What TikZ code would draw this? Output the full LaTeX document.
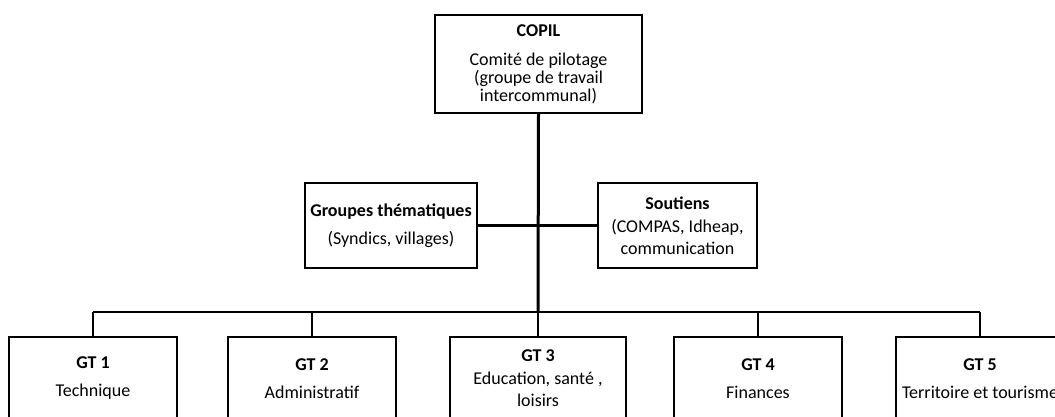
\documentclass[tikz,border=0pt]{standalone}
\usepackage{fontspec}
\setmainfont{Carlito}
\usepackage{tikz}
\usetikzlibrary{positioning}

\begin{document}
\begin{tikzpicture}[
  x=1pt, y=-1pt,
  every node/.style={font=\fontsize{18}{18}\selectfont},
  orgbox/.style={draw, line width=2pt, align=center, inner sep=0pt},
  gtbox/.style={orgbox, minimum width=168pt, minimum height=83pt},
  trunk/.style={line width=3pt},
  branch/.style={line width=2.5pt}
]
\clip (0,0) rectangle (1055,417);
\fill[white] (0,0) rectangle (1055,417);
\node[orgbox, minimum width=207pt, minimum height=98pt] (copil) at (538.5,64)
  {\textbf{COPIL}\\[11pt] Comité de pilotage\\ (groupe de travail\\ intercommunal)};
\node[orgbox, minimum width=172pt, minimum height=85pt] (groupes) at (391,225.5)
  {\textbf{Groupes thématiques}\\[10pt] (Syndics, villages)};
\node[orgbox, minimum width=159pt, minimum height=85pt] (soutiens) at (677.5,225.5)
  {\textbf{Soutiens}\\[5pt] (COMPAS, Idheap,\\[4pt] communication};
\coordinate (bus) at (538,312);
\node[gtbox] (gt1) at (93,378.5) {\textbf{GT 1}\\[10pt] Technique};
\node[gtbox] (gt2) at (312,378.5) {\textbf{GT 2}\\[10pt] Administratif};
\node[gtbox, minimum width=176pt] (gt3) at (538,378.5) {\textbf{GT 3}\\[5pt] Education, santé ,\\[4pt] loisirs};
\node[gtbox] (gt4) at (758,378.5) {\textbf{GT 4}\\[10pt] Finances};
\node[gtbox] (gt5) at (980,378.5) {\textbf{GT 5}\\[10pt] Territoire et tourisme};
\draw[trunk] (copil.south) -- (bus);
\draw[branch] (groupes.east) -- (soutiens.west);
\draw[branch] (gt1.north |- bus) -- (gt5.north |- bus);
\foreach \i in {1,...,5}
  \draw[line width=2pt] (gt\i.north) -- (gt\i.north |- bus);
\end{tikzpicture}
\end{document}
